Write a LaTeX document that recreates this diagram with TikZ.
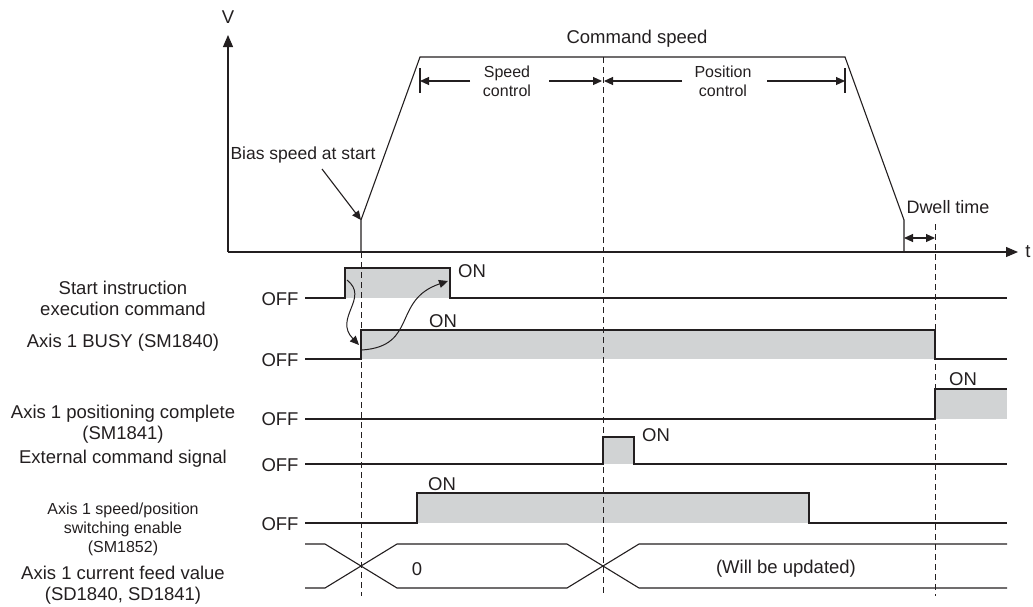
\documentclass[tikz,border=0pt]{standalone}
\usepackage{fontspec}
\setmainfont{Liberation Sans}
\usetikzlibrary{arrows.meta}
\definecolor{ink}{HTML}{231F20}
\definecolor{ongray}{HTML}{D1D3D4}
\begin{document}
\begin{tikzpicture}[x=1pt,y=-1pt,
  sig/.style={draw=ink, line width=1.1pt, line join=miter},
  onfill/.style={fill=ongray, draw=none},
  guide/.style={draw=ink, line width=1pt, dash pattern=on 6pt off 4pt},
  lbl/.style={font=\fontsize{18.5}{21}\selectfont, text=ink, inner sep=0pt, align=center},
  sml/.style={font=\fontsize{16}{19}\selectfont, text=ink, inner sep=0pt, align=center},
  bigtip/.style={-{Triangle[length=12pt,width=10pt]}},
  smalltip/.style={-{Triangle[length=9pt,width=8pt]}},
  dimtip/.style={{Triangle[length=9pt,width=8pt]}-{Triangle[length=9pt,width=8pt]}},
]
\useasboundingbox (0,0) rectangle (1033,606);

% ---------- axes ----------
\coordinate (O) at (228,252);
\coordinate (Vtop) at (228,35);
\coordinate (Tend) at (1018,252);
\draw[sig, bigtip] (O) -- (Vtop);
\draw[sig, bigtip] (O) -- (Tend);
\node[lbl] (Vlab) at (228,17) {V};
\node[lbl] (tlab) at (1028,252) {t};

% ---------- speed profile ----------
\coordinate (s0) at (361,252);
\coordinate (s1) at (361,220);
\coordinate (s2) at (420,57);
\coordinate (s3) at (845,57);
\coordinate (s4) at (904,220);
\coordinate (s5) at (904,252);
\draw[sig] (s0) -- (s1) -- (s2) -- (s3) -- (s4) -- (s5);
\node[lbl] (cmdspeed) at (637,39) {Command speed};

% speed / position control dimensions
\coordinate (bl1) at (420,68); \coordinate (bl2) at (420,93);
\coordinate (br1) at (845,68); \coordinate (br2) at (845,93);
\draw[sig] (bl1) -- (bl2);
\draw[sig] (br1) -- (br2);
\coordinate (scL) at (420,81); \coordinate (scA) at (470,81);
\coordinate (scB) at (549,81); \coordinate (scR) at (602,81);
\coordinate (pcL) at (604,81); \coordinate (pcA) at (682,81);
\coordinate (pcB) at (767,81); \coordinate (pcR) at (845,81);
\draw[sig, smalltip] (scA) -- (scL);
\draw[sig, smalltip] (scB) -- (scR);
\draw[sig, smalltip] (pcA) -- (pcL);
\draw[sig, smalltip] (pcB) -- (pcR);
\node[sml] (speedctl) at (507,81) {Speed\\control};
\node[sml] (posctl) at (723,81) {Position\\control};

% bias speed
\node[lbl, font=\fontsize{17.5}{21}\selectfont] (bias) at (303,155) {Bias speed at start};
\coordinate (biasA) at (322,169);
\draw[sig, smalltip] (biasA) -- (s1);

% dwell time
\node[lbl, font=\fontsize{18}{21}\selectfont] (dwell) at (948,207) {Dwell time};
\coordinate (dw1) at (904,238); \coordinate (dw2) at (935,238);
\draw[sig, dimtip] (dw1) -- (dw2);

% ---------- fills ----------
\fill[onfill] (345,268) rectangle (450,298);
\fill[onfill] (361,330) rectangle (935,359);
\fill[onfill] (935,389) rectangle (1007,419);
\fill[onfill] (603,437) rectangle (634,464);
\fill[onfill] (417,493) rectangle (809,523);

% ---------- guides ----------
\coordinate (g1t) at (361,252); \coordinate (g1b) at (361,596);
\coordinate (g2t) at (603,57);  \coordinate (g2b) at (603,596);
\coordinate (g3t) at (935,224); \coordinate (g3b) at (935,596);
\draw[guide] (g1t) -- (g1b);
\draw[guide] (g2t) -- (g2b);
\draw[guide] (g3t) -- (g3b);

% ---------- signals ----------
% start instruction
\draw[sig] (305,298) -- (345,298) -- (345,268) -- (450,268) -- (450,298) -- (1007,298);
% busy
\draw[sig] (305,359) -- (361,359) -- (361,330) -- (935,330) -- (935,359) -- (1007,359);
% positioning complete
\draw[sig] (305,419) -- (935,419) -- (935,389) -- (1007,389);
% external command
\draw[sig] (305,464) -- (603,464) -- (603,437) -- (634,437) -- (634,464) -- (1007,464);
% speed/position switching enable
\draw[sig] (305,523) -- (417,523) -- (417,493) -- (809,523 |- 0,493) -- (809,523) -- (1007,523);
% current feed value
\draw[sig] (305,544) -- (325,544) -- (397,588) -- (567,588) -- (639,544) -- (1007,544);
\draw[sig] (305,588) -- (325,588) -- (397,544) -- (567,544) -- (639,588) -- (1007,588);
\node[lbl] (zero) at (417,569) {0};
\node[lbl] (upd) at (786,569) {(Will be updated)};

% causal arrows
\coordinate (c1a) at (347,280); \coordinate (c1b) at (359,345);
\coordinate (c2a) at (362,350); \coordinate (c2b) at (448,281);
\draw[sig, line width=1pt, smalltip] (c1a) .. controls (370,298) and (333,318) .. (c1b);
\draw[sig, line width=1pt, smalltip] (c2a) .. controls (418,346) and (392,300) .. (c2b);

% ON / OFF labels
\node[lbl] (off1) at (280,299) {OFF};
\node[lbl] (off2) at (280,360) {OFF};
\node[lbl] (off3) at (280,419) {OFF};
\node[lbl] (off4) at (280,465) {OFF};
\node[lbl] (off5) at (280,524) {OFF};
\node[lbl] (on1) at (472,271) {ON};
\node[lbl] (on2) at (443,321) {ON};
\node[lbl] (on3) at (963,379) {ON};
\node[lbl] (on4) at (656,435) {ON};
\node[lbl] (on5) at (442,484) {ON};

% ---------- left labels ----------
\node[lbl] (Lstart) at (123,298) {Start instruction\\execution command};
\node[lbl] (Lbusy) at (123,343) {Axis 1 BUSY (SM1840)};
\node[lbl] (Lpos) at (123,424) {Axis 1 positioning complete\\(SM1841)};
\node[lbl] (Lext) at (123,459) {External command signal};
\node[sml] (Lsw) at (123,529) {Axis 1 speed/position\\switching enable\\(SM1852)};
\node[lbl] (Lfeed) at (123,585) {Axis 1 current feed value\\(SD1840, SD1841)};
\end{tikzpicture}
\end{document}
